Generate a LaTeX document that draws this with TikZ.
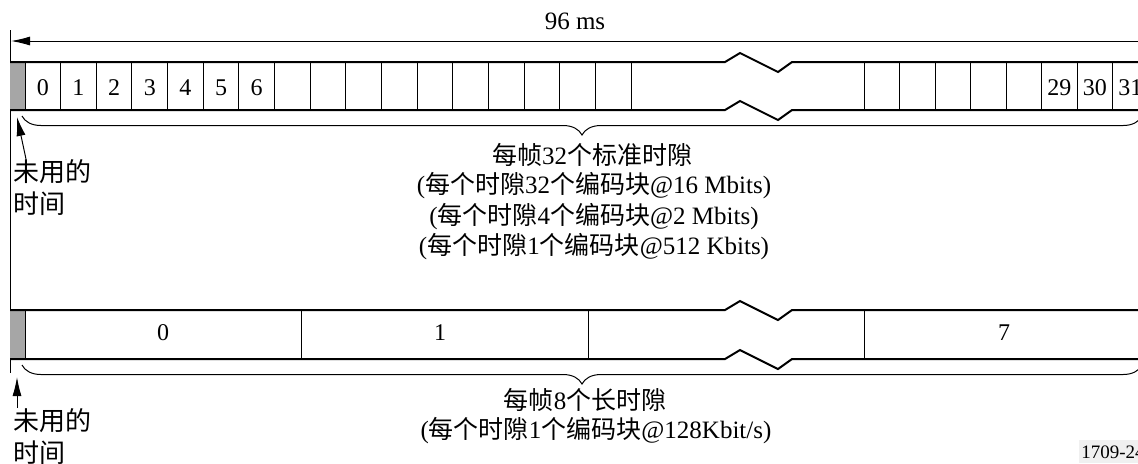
\documentclass[tikz,border=0pt]{standalone}
\usepackage{fontspec}
\setmainfont{Liberation Serif}
\newfontfamily\cjk{Noto Sans CJK SC}
\newcommand{\zh}[1]{{\cjk #1}}
\usetikzlibrary{arrows.meta, decorations.pathreplacing, calc}

\begin{document}
\begin{tikzpicture}[x=0.5pt,y=-0.5pt,font=\fontsize{12}{14}\selectfont,
    frame/.style={line width=1pt},
    cell/.style={line width=0.5pt},
    span/.style={decorate, decoration={brace, mirror, amplitude=9.5pt}, line width=0.5pt},
    tip/.style={-{Latex[length=9.5pt,width=4.5pt]}, line width=0.5pt},
    info/.style={font=\fontsize{12.5}{14}\selectfont},
    note/.style={inner sep=0pt, align=left, anchor=north west, font=\fontsize{13}{16}\selectfont\cjk}]
  \useasboundingbox (0,0) rectangle (1138,463);
  % time axis
  \draw[cell] (10,30) -- (10,373);
  \coordinate (l) at (11,41);
  \coordinate (r) at (1138,41);
  \draw[tip, {Latex[length=9.5pt,width=4.5pt]}-] (l) -- (r);
  \node[info] (len) at (575,21) {96 ms};
  % unused slots
  \fill[gray!70] (10,62) rectangle (25,110);
  \fill[gray!70] (10,310) rectangle (25,359);
  \foreach \y in {62,110,310,359}
    \draw[frame] (10,\y) -- (725,\y) -- (740,\y-9) -- (778,\y+10) -- (792,\y) -- (1150,\y);
  % 32 standard slots
  \foreach \k in {0,...,17}
    \draw[cell] (25+\k*35.65,62) -- (25+\k*35.65,110);
  \foreach \k in {0,...,8}
    \draw[cell] (864+\k*35.5,62) -- (864+\k*35.5,110);
  \foreach \i in {0,...,6}
    \node (s\i) at (42.8+\i*35.65,88) {\i};
  \foreach \i/\k in {29/5,30/6,31/7}
    \node (s\i) at (881.75+\k*35.5,88) {\i};
  % 8 long slots
  \foreach \x in {25,301,588,864}
    \draw[cell] (\x,310) -- (\x,359);
  \node (m0) at (163,333) {0};
  \node (m1) at (440,333) {1};
  \node (m7) at (1004,333) {7};
  % braces
  \draw[span] (22,116) -- (1142,116);
  \draw[span] (22,365) -- (1142,365);
  \node[info] (t1) at (592,155) {\zh{每帧}32\zh{个标准时隙}};
  \node[info] (t2) at (594,186) {(\zh{每个时隙}32\zh{个编码块}@16 Mbits)};
  \node[info] (t3) at (594,217) {(\zh{每个时隙}4\zh{个编码块}@2 Mbits)};
  \node[info] (t4) at (594,247) {(\zh{每个时隙}1\zh{个编码块}@512 Kbits)};
  \node[info] (b1) at (585,400) {\zh{每帧}8\zh{个长时隙}};
  \node[info] (b2) at (596,431) {(\zh{每个时隙}1\zh{个编码块}@128Kbit/s)};
  % unused time notes
  \node[note] (u1) at (13,159) {未用的\\时间};
  \node[note] (u2) at (13,408) {未用的\\时间};
  \coordinate (a1) at (17,117);
  \coordinate (a2) at (17,377);
  \draw[tip] ($(u1.north west)+(13,0)$) -- (a1);
  \draw[tip] ($(u2.north west)+(4,0)$) -- (a2);
  % figure number
  \fill[gray!12] (1079,440) rectangle (1138,463);
  \node[anchor=west, inner sep=1pt, font=\fontsize{9.5}{11}\selectfont] (fig) at (1079,452) {1709-24};
\end{tikzpicture}
\end{document}
